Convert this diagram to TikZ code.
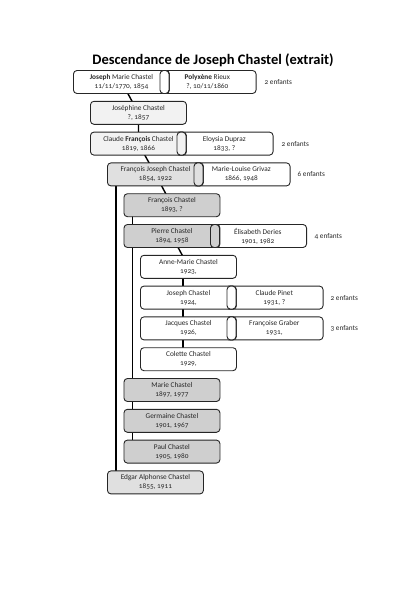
\documentclass[tikz,border=0pt]{standalone}
\usepackage{fontspec}
\setmainfont{Carlito}[Numbers=OldStyle]
\usetikzlibrary{backgrounds}
\definecolor{genA}{gray}{0.95}
\definecolor{genB}{gray}{0.88}
\definecolor{genC}{gray}{0.81}
\begin{document}
\begin{tikzpicture}[x=1pt,y=-1pt,
    person/.style={draw=black!85,line width=0.9pt,rounded corners=3.5pt,
        minimum width=96pt,minimum height=23pt,inner sep=1pt,
        align=center,anchor=west,text=black!85,
        font=\fontsize{7.3}{9}\selectfont},
    spouse/.style={person,fill=white,minimum width=97.5pt,anchor=east},
    divider/.style={draw=black!85,line width=0.9pt,rounded corners=3.5pt,
        minimum width=9pt,minimum height=23pt,inner sep=0pt},
    kids/.style={anchor=west,text=black!85,font=\fontsize{7.3}{9}\selectfont},
    link/.style={line width=1.4pt,black}]
    \useasboundingbox (0,0) rectangle (400,598);

    % Title
    \node[font=\bfseries\fontsize{14.5}{16}\selectfont] (title) at (213,60)
        {Descendance de Joseph Chastel (extrait)};

    % Joseph and Polyxene
    \node[spouse] (polyxene) at (256.5,82) {\textbf{Polyxène} Rieux\\?, 10/11/1860};
    \node[person,fill=white] (joseph) at (73,82) {\textbf{Joseph} Marie Chastel\\11/11/1770, 1854};
    \node[divider,fill=white] (dv0) at (164.5,82) {};
    \node[kids] (n0) at (261,82) {2 enfants};

    % Their children
    \node[person,fill=genA] (josephine) at (90,112.8) {Joséphine Chastel\\?, 1857};
    \node[spouse] (eloysia) at (273.5,143.6) {Eloysia Dupraz\\1833, ?};
    \node[person,fill=genA] (claude) at (90,143.6) {Claude \textbf{François} Chastel\\1819, 1866};
    \node[divider,fill=genA] (dv1) at (181.5,143.6) {};
    \node[kids] (n1) at (278,143.6) {2 enfants};

    % Children of Claude
    \node[spouse] (marielouise) at (290.5,174.4) {Marie-Louise Grivaz\\1866, 1948};
    \node[person,fill=genB] (fjoseph) at (107,174.4) {François Joseph Chastel\\1854, 1922};
    \node[divider,fill=genB] (dv2) at (198.5,174.4) {};
    \node[kids] (n2) at (294,174.4) {6 enfants};
    \node[person,fill=genB] (edgar) at (107,482.4) {Edgar Alphonse Chastel\\1855, 1911};

    % Children of Francois Joseph
    \node[person,fill=genC] (francois) at (123.5,205.2) {François Chastel\\1893, ?};
    \node[spouse] (elisabeth) at (307,236) {Élisabeth Deries\\1901, 1982};
    \node[person,fill=genC] (pierre) at (123.5,236) {Pierre Chastel\\1894, 1958};
    \node[divider,fill=genC] (dv3) at (215,236) {};
    \node[kids] (n3) at (311,236) {4 enfants};
    \node[person,fill=genC] (marie) at (123.5,390) {Marie Chastel\\1897, 1977};
    \node[person,fill=genC] (germaine) at (123.5,420.8) {Germaine Chastel\\1901, 1967};
    \node[person,fill=genC] (paul) at (123.5,451.6) {Paul Chastel\\1905, 1980};

    % Children of Pierre
    \node[person,fill=white] (annemarie) at (140,266.8) {Anne-Marie Chastel\\1923,};
    \node[spouse] (claudep) at (323.5,297.6) {Claude Pinet\\1931, ?};
    \node[person,fill=white] (josephc) at (140,297.6) {Joseph Chastel\\1924,};
    \node[divider,fill=white] (dv4) at (231.5,297.6) {};
    \node[kids] (n4) at (327,297.6) {2 enfants};
    \node[spouse] (francoise) at (323.5,328.4) {Françoise Graber\\1931,};
    \node[person,fill=white] (jacques) at (140,328.4) {Jacques Chastel\\1926,};
    \node[divider,fill=white] (dv5) at (231.5,328.4) {};
    \node[kids] (n5) at (327,328.4) {3 enfants};
    \node[person,fill=white] (colette) at (140,359.2) {Colette Chastel\\1929,};

    % Links
    \begin{scope}[on background layer]
        \draw[link] (joseph.center) -- (josephine.center) -- (claude.center);
        \draw[link] (claude.center) -- (fjoseph.center);
        \draw[link] ([xshift=9pt]fjoseph.west) -- ([xshift=9pt]edgar.west);
        \draw[link] (fjoseph.center) -- (francois.center);
        \draw[link] ([xshift=9pt]francois.west) -- ([xshift=9pt]paul.west);
        \draw[link] (pierre.center) -- (annemarie.center);
        \draw[link] ([xshift=43pt]annemarie.west) -- ([xshift=43pt]colette.west);
    \end{scope}
\end{tikzpicture}
\end{document}
